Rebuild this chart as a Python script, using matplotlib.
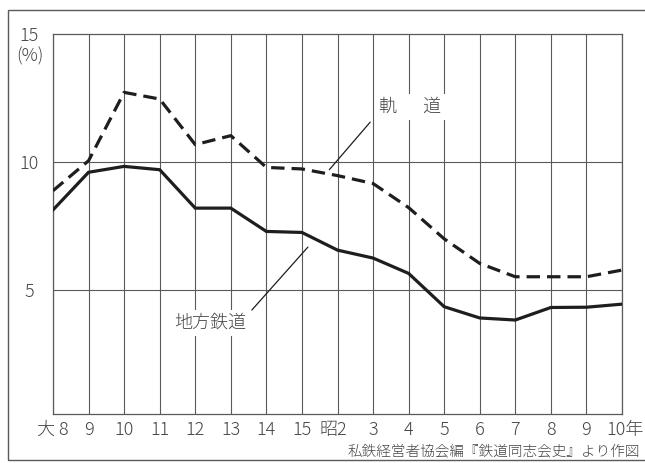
import matplotlib

matplotlib.use("Agg")
import matplotlib.pyplot as plt
import matplotlib.transforms as mtransforms
from matplotlib.patches import Rectangle

# years: 大正8 .. 大正15, 昭和2 .. 昭和10
year_labels = ["大 8", "9", "10", "11", "12", "13", "14", "15",
               "昭2", "3", "4", "5", "6", "7", "8", "9", "10年"]
kido = [8.88, 10.05, 12.72, 12.46, 10.68, 11.03, 9.79, 9.73,
        9.47, 9.16, 8.22, 7.0, 6.04, 5.52, 5.52, 5.52, 5.78]
chiho = [8.13, 9.6, 9.83, 9.7, 8.2, 8.2, 7.29, 7.25,
         6.56, 6.25, 5.65, 4.35, 3.91, 3.83, 4.32, 4.33, 4.45]
y_ticks = [5, 10, 15]

FONT = ["Noto Sans CJK JP", "DejaVu Sans"]
INK = "#1e1e1e"
GRID = "#5a5a5a"
TXT = "#444444"

plt.rcParams["font.family"] = FONT
plt.rcParams["font.weight"] = "light"

fig = plt.figure(figsize=(6.45, 4.63), dpi=100)
W, H = 645, 463
ax = fig.add_axes([53 / W, 1 - 414 / H, (622 - 53) / W, (414 - 34) / H])

x = list(range(len(year_labels)))
ax.plot(x, chiho, color=INK, lw=2.3, solid_joinstyle="miter", zorder=3)
ax.plot(x, kido, color=INK, lw=2.3, dashes=(4.2, 2.2), zorder=3)

ax.set_xlim(0, len(x) - 1)
ax.set_ylim(0.16, 15)

# grid: every year vertically, 5 and 10 horizontally
for xi in x:
    ax.axvline(xi, color=GRID, lw=0.8, zorder=1)
for yv in y_ticks[:-1]:
    ax.axhline(yv, color=GRID, lw=0.8, zorder=1)
for s in ax.spines.values():
    s.set_color(GRID)
    s.set_linewidth(0.9)

ax.set_xticks(x, labels=year_labels)
ax.set_yticks(y_ticks, labels=[str(v) for v in y_ticks])
ax.tick_params(length=0, labelsize=13, labelcolor=TXT)
ax.tick_params(axis="x", pad=5)
ax.tick_params(axis="y", pad=12)
for lab in ax.get_xticklabels():
    if lab.get_text() == "昭2":
        lab.set_transform(lab.get_transform() + mtransforms.ScaledTranslation(-4 / 100, 0, fig.dpi_scale_trans))
    if lab.get_text() == "10年":
        lab.set_transform(lab.get_transform() + mtransforms.ScaledTranslation(3 / 100, 0, fig.dpi_scale_trans))
for lab in ax.get_yticklabels():
    lab.set_horizontalalignment("center")
    lab.set_transform(lab.get_transform() + mtransforms.ScaledTranslation(-7 / 100, 0, fig.dpi_scale_trans))

fig.text(30 / W, 1 - 56 / H, "(%)", ha="center", va="center", fontsize=13, color=TXT)

# series labels with leader lines
box = dict(facecolor="white", edgecolor="none", pad=3)
ax.text(10.05, 12.15, "軌　  道", ha="center", va="center", fontsize=13,
        color=TXT, bbox=box, zorder=4)
ax.annotate("", xy=(7.72, 9.62), xytext=(8.97, 11.64),
            arrowprops=dict(arrowstyle="-", color=INK, lw=0.9), zorder=4)
ax.text(4.41, 3.71, "地方鉄道", ha="center", va="center", fontsize=13,
        color=TXT, bbox=box, zorder=4)
ax.annotate("", xy=(7.22, 6.76), xytext=(5.54, 4.14),
            arrowprops=dict(arrowstyle="-", color=INK, lw=0.9), zorder=4)

fig.text(640 / W, 1 - 451 / H, "私鉄経営者協会編『鉄道同志会史』より作図",
         ha="right", va="center", fontsize=10.5, color=TXT)

# outer frame of the printed figure
fig.patches.append(Rectangle((8 / W, 1 - 460 / H), 1.0, (460 - 10) / H,
                             transform=fig.transFigure, fill=False,
                             edgecolor=GRID, lw=1.0, clip_on=False))

fig.savefig("out.png", dpi=100)
